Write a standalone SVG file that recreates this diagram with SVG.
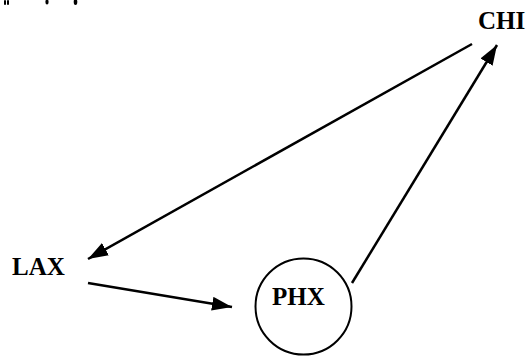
<svg xmlns="http://www.w3.org/2000/svg" width="528" height="356" viewBox="0 0 528 356">
<style>
.lbl{font-family:"Liberation Serif","Times New Roman",serif;font-weight:bold;font-size:25px;fill:#000}
.edge{stroke:#000;stroke-width:2.5;fill:none}
.mark{fill:#000}
</style>
<defs>
<marker id="ah" markerUnits="userSpaceOnUse" markerWidth="22" markerHeight="16" refX="20" refY="7" orient="auto">
<path d="M0,0 L20,7 L0,14 Z" fill="#000"/>
</marker>
</defs>
<g id="clip-marks">
<rect class="mark" x="4" y="0" width="2" height="5" rx="1"/>
<rect class="mark" x="7" y="0" width="2" height="5" rx="1"/>
<ellipse class="mark" cx="47" cy="2" rx="1.6" ry="2.5"/>
<ellipse class="mark" cx="75.5" cy="2" rx="1.8" ry="3"/>
</g>
<g id="connectors">
<line class="edge" x1="472" y1="44" x2="88" y2="259" marker-end="url(#ah)"/>
<line class="edge" x1="88" y1="283" x2="232" y2="307" marker-end="url(#ah)"/>
<line class="edge" x1="352" y1="283" x2="497" y2="45" marker-end="url(#ah)"/>
</g>
<g id="node-CHI"><text class="lbl" x="478" y="29">CHI</text></g>
<g id="node-LAX"><text class="lbl" x="12" y="275">LAX</text></g>
<g id="node-PHX">
<circle cx="303.5" cy="306.5" r="48" fill="none" stroke="#000" stroke-width="2"/>
<text class="lbl" x="272" y="305">PHX</text>
</g>
</svg>
